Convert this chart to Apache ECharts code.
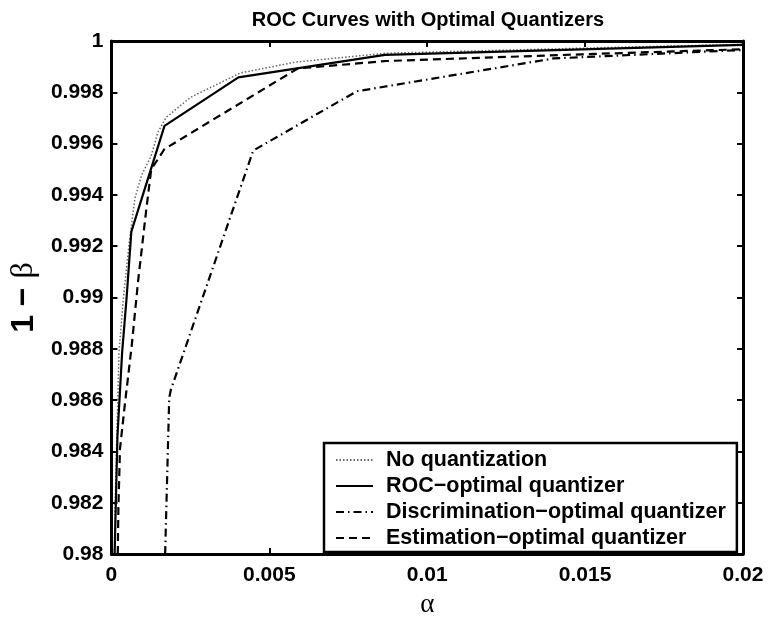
<!DOCTYPE html>
<html>
<head>
<meta charset="utf-8">
<script src="https://cdn.jsdelivr.net/npm/echarts@6/dist/echarts.min.js"></script>
<style>html,body{margin:0;padding:0;background:#fff}#c{width:769px;height:623px}</style>
</head>
<body>
<div id="c"></div>
<script>
const titleText = 'ROC Curves with Optimal Quantizers';
const seriesNames = ['No quantization', 'ROC\u2212optimal quantizer', 'Discrimination\u2212optimal quantizer', 'Estimation\u2212optimal quantizer'];
const xTicks = [0, 0.005, 0.01, 0.015, 0.02];
const yTicks = [0.98, 0.982, 0.984, 0.986, 0.988, 0.99, 0.992, 0.994, 0.996, 0.998, 1];

const noQuant = [
  [0.0001, 0.98], [0.000115, 0.9818], [0.00017, 0.9846], [0.00024, 0.9879], [0.00038, 0.9900],
  [0.00055, 0.9920], [0.00074, 0.99386], [0.00095, 0.99476], [0.00126, 0.99553], [0.00147, 0.99644],
  [0.00173, 0.99702], [0.0025, 0.9978], [0.00407, 0.99875], [0.00584, 0.99918], [0.00866, 0.99952],
  [0.0149, 0.99972], [0.02, 0.99987]
];
const rocOpt = [
  [0.0001, 0.98], [0.000135, 0.9818], [0.00019, 0.9846], [0.00034, 0.9879], [0.00048, 0.9900],
  [0.00063, 0.99257], [0.00168, 0.99669], [0.00402, 0.99858], [0.00866, 0.99946], [0.02, 0.99985]
];
const discOpt = [
  [0.0017, 0.98], [0.00183, 0.9861], [0.00188, 0.9864], [0.00449, 0.99573], [0.00777, 0.99804],
  [0.0140, 0.99932], [0.02, 0.99965]
];
const estOpt = [
  [0.0002, 0.98], [0.00022, 0.9818], [0.00027, 0.9841], [0.00043, 0.9859], [0.00064, 0.9881],
  [0.00084, 0.9906], [0.0011, 0.9934], [0.00126, 0.9950], [0.00168, 0.99579], [0.0059, 0.99893],
  [0.0087, 0.99922], [0.0149, 0.99948], [0.02, 0.99968]
];

const lineStyles = [
  {color: '#666', width: 1.5, type: [1.5, 2]},
  {color: '#000', width: 2.2, type: 'solid'},
  {color: '#000', width: 2.2, type: [8, 4, 1.5, 4]},
  {color: '#000', width: 2.2, type: [8, 5]}
];
const dataSets = [noQuant, rocOpt, discOpt, estOpt];

const axisCommon = {
  axisLine: {show: true, onZero: false, lineStyle: {color: '#000', width: 3}},
  axisTick: {show: true, inside: true, length: 6, lineStyle: {color: '#000', width: 2}},
  splitLine: {show: false}
};
const fmt = v => parseFloat(v.toFixed(3)).toString();
const sans = 'Liberation Sans, Arial, sans-serif';
const serif = 'Liberation Serif, Times New Roman, serif';
const labelFont = {color: '#000', fontSize: 21, fontWeight: 'bold', fontFamily: sans};

const chart = echarts.init(document.getElementById('c'), null, {renderer: 'canvas'});
chart.setOption({
  animation: false,
  backgroundColor: '#fff',
  title: {
    text: titleText, left: 423, top: 5, textAlign: 'center',
    textStyle: {fontSize: 20, fontWeight: 'bold', color: '#000', fontFamily: sans}
  },
  grid: {left: 103, right: 26, top: 41, bottom: 64},
  xAxis: [
    Object.assign({type: 'value', position: 'bottom', min: xTicks[0], max: xTicks[xTicks.length - 1], interval: 0.005,
      axisLabel: Object.assign({margin: 11, formatter: fmt}, labelFont),
      name: 'α', nameLocation: 'middle', nameGap: 22,
      nameTextStyle: {fontSize: 27, color: '#000', fontFamily: serif}
    }, axisCommon),
    Object.assign({type: 'value', position: 'top', min: xTicks[0], max: xTicks[xTicks.length - 1], interval: 0.005,
      axisLabel: {show: false}}, axisCommon)
  ],
  yAxis: [
    Object.assign({type: 'value', position: 'left', min: yTicks[0], max: yTicks[yTicks.length - 1], interval: 0.002,
      axisLabel: Object.assign({margin: 8, formatter: fmt}, labelFont),
      name: '{a|1 \u2212 }{b|β}', nameLocation: 'middle', nameGap: 60,
      nameTextStyle: {
        rich: {
          a: {fontSize: 32, fontWeight: 'bold', color: '#000', fontFamily: sans},
          b: {fontSize: 32, color: '#000', fontFamily: serif}
        }
      }
    }, axisCommon),
    Object.assign({type: 'value', position: 'right', min: yTicks[0], max: yTicks[yTicks.length - 1], interval: 0.002,
      axisLabel: {show: false}}, axisCommon)
  ],
  legend: {
    orient: 'vertical', left: 324, top: 443,
    padding: [6, 11, 3, 11], itemGap: 4, itemWidth: 37, itemHeight: 14,
    backgroundColor: '#fff', borderColor: '#000', borderWidth: 2.5,
    data: seriesNames,
    itemStyle: {opacity: 0},
    textStyle: Object.assign({}, labelFont, {fontSize: 21.5, padding: [0, 0, 0, 8]})
  },
  series: seriesNames.map((n, i) => ({
    name: n, type: 'line', data: dataSets[i], symbol: 'none', showSymbol: false,
    lineStyle: lineStyles[i], itemStyle: {color: lineStyles[i].color}, z: 3, clip: true
  }))
});
</script>
</body>
</html>
